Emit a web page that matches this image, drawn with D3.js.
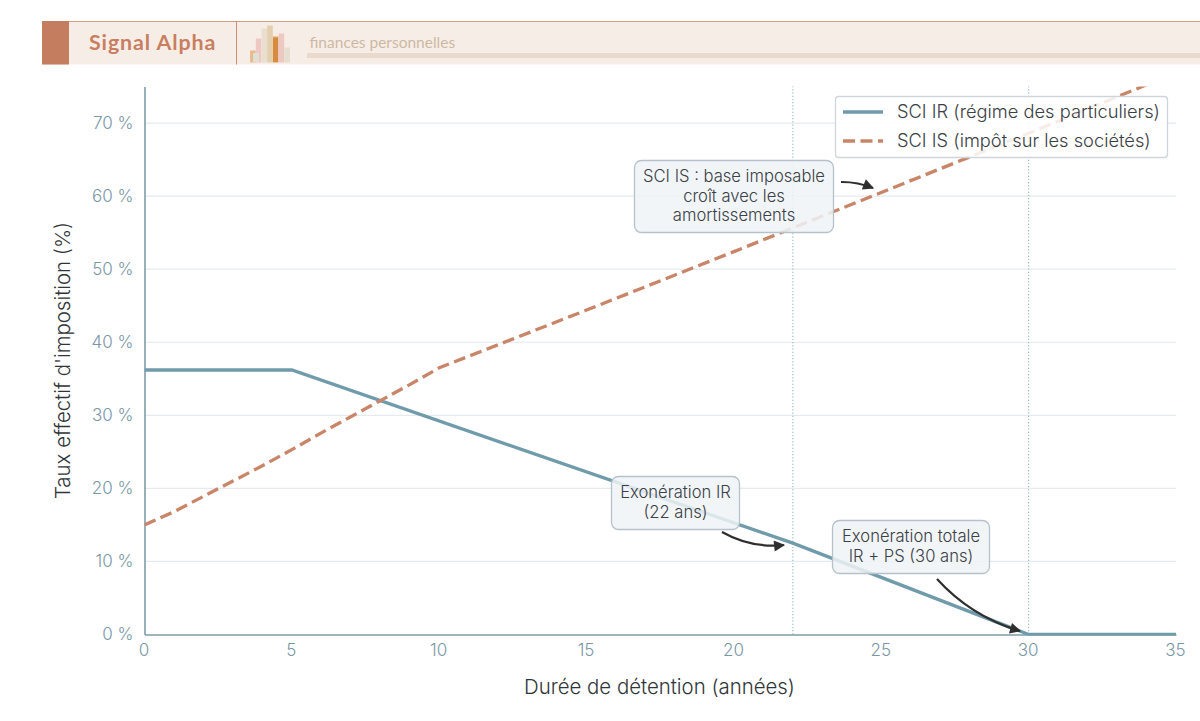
<!DOCTYPE html>
<html lang="fr">
<head>
<meta charset="UTF-8">
<title>SCI IR / SCI IS</title>
<script src="https://d3js.org/d3.v7.min.js"></script>
<style>
  html, body { margin: 0; padding: 0; background: #fff; }
  svg { display: block; }
  text { font-family: Inter, "Noto Sans", sans-serif; }
</style>
</head>
<body>
<svg id="chart" width="1200" height="721"></svg>
<script>
const irYears = [0, 5, 22, 30, 35]
const irRates = [36.2, 36.2, 12.5, 0, 0]
const isYears = [0, 1, 2, 3, 4, 5, 6, 7, 8, 9, 10, 15, 20, 25, 30, 35]
const isRates = [15, 16.8, 18.9, 21, 23.1, 25.3, 27.6, 29.8, 32, 34.2, 36.5, 44.4, 52.4, 60.5, 68.6, 76.9]
const xTicks = [0, 5, 10, 15, 20, 25, 30, 35]
const yTicks = [0, 10, 20, 30, 40, 50, 60, 70]
const exonerationYears = [22, 30]
const seriesNames = ['SCI IR (régime des particuliers)', 'SCI IS (impôt sur les sociétés)']
const noteTexts = [
    ['SCI IS : base imposable', 'croît avec les', 'amortissements'],
    ['Exonération IR', '(22 ans)'],
    ['Exonération totale', 'IR + PS (30 ans)']
]
const logoHeights = [12, 24, 34, 37, 26, 29, 15]

const svg = d3.select('#chart')
const blue = '#6f9baa', terra = '#c98567', axisColor = '#7d9dac', tickColor = '#7a97a7', inkColor = '#3a4045'

const margin = { left: 144.5, right: 24, top: 86.5, bottom: 86.5 }
const x = d3.scaleLinear().domain([0, 35]).range([margin.left, 1200 - margin.right])
const y = d3.scaleLinear().domain([0, 75]).range([721 - margin.bottom, margin.top])

// bandeau du haut
const head = svg.append('g')
head.append('rect').attr('x', 42).attr('y', 21).attr('width', 1158).attr('height', 43.5).attr('fill', '#f7ede7')
head.append('rect').attr('x', 42).attr('y', 21).attr('width', 1158).attr('height', 1).attr('fill', '#d39b82')
head.append('rect').attr('x', 42).attr('y', 21).attr('width', 27).attr('height', 43.5).attr('fill', '#c47d5e')
head.append('rect').attr('x', 236).attr('y', 21).attr('width', 1).attr('height', 43.5).attr('fill', '#d08f73')
head.append('rect').attr('x', 307).attr('y', 53).attr('width', 893).attr('height', 5).attr('fill', '#e9dacd')
head.append('text').attr('x', 89).attr('y', 49.5).attr('font-size', 21.4).attr('font-weight', 700)
    .attr('letter-spacing', 0.9).style('font-family', 'Lato, sans-serif').attr('fill', '#c77f60').text('Signal Alpha')
head.append('text').attr('x', 309.5).attr('y', 47.5).attr('font-size', 15.5)
    .style('font-family', 'Lato, sans-serif').attr('fill', '#cdb9a3').text('finances personnelles')

const logoColors = ['#e8b98f', '#eec9c4', '#eadfcf', '#e3cfae', '#d8a163', '#eec9c4', '#e5dfcf']
const logoX = d3.scaleBand().domain(d3.range(logoHeights.length)).range([250, 290]).padding(0.02)
head.selectAll('.logo').data(logoHeights).join('rect')
    .attr('class', 'logo')
    .attr('x', (d, i) => logoX(i))
    .attr('y', d => 62.5 - d)
    .attr('width', logoX.bandwidth())
    .attr('height', d => d)
    .attr('fill', (d, i) => logoColors[i])
head.append('rect').attr('x', 273).attr('y', 38).attr('width', 5).attr('height', 24).attr('fill', '#d9802f').attr('opacity', 0.7)
head.append('rect').attr('x', 253).attr('y', 53).attr('width', 6).attr('height', 9).attr('fill', '#dfe0d2')

// grille
svg.append('g').selectAll('line').data(yTicks.filter(d => d > 0)).join('line')
    .attr('x1', x(0)).attr('x2', x(35))
    .attr('y1', d => y(d)).attr('y2', d => y(d))
    .attr('stroke', '#e6eaed').attr('stroke-width', 1.2)

svg.append('g').selectAll('line').data(exonerationYears).join('line')
    .attr('x1', d => x(d)).attr('x2', d => x(d))
    .attr('y1', y(0)).attr('y2', y(75))
    .attr('stroke', '#8fb9bb').attr('stroke-width', 1.1).attr('stroke-dasharray', '1.2 2')

// axes
const xAxis = svg.append('g').attr('transform', `translate(0, ${y(0)})`)
    .call(d3.axisBottom(x).tickValues(xTicks).tickSize(0).tickPadding(9).tickFormat(d => d))
const yAxis = svg.append('g').attr('transform', `translate(${x(0)}, 0)`)
    .call(d3.axisLeft(y).tickValues(yTicks).tickSize(0).tickPadding(11).tickFormat(d => d + ' %'))
for (const a of [xAxis, yAxis]) {
    a.select('.domain').attr('stroke', axisColor).attr('stroke-width', 1.6)
    a.selectAll('text').attr('fill', tickColor).attr('font-size', 17).attr('font-weight', 300).style('font-family', 'Inter, sans-serif')
}
xAxis.selectAll('text').attr('dx', -1)

svg.append('text').attr('x', 659.5).attr('y', 694).attr('text-anchor', 'middle')
    .attr('font-size', 20.4).attr('font-weight', 300).attr('fill', '#2f3438').text('Durée de détention (années)')
svg.append('text').attr('transform', `translate(70, 360.5) rotate(-90)`).attr('text-anchor', 'middle')
    .attr('font-size', 20.4).attr('font-weight', 300).attr('fill', '#2f3438').text("Taux effectif d'imposition (%)")

// courbes
svg.append('clipPath').attr('id', 'plot').append('rect')
    .attr('x', x(0)).attr('y', y(75)).attr('width', x(35) - x(0)).attr('height', y(0) - y(75) + 1)

const line = d3.line().x(d => x(d[0])).y(d => y(d[1]))
const plot = svg.append('g').attr('clip-path', 'url(#plot)')
plot.append('path').datum(d3.zip(irYears, irRates)).attr('d', line)
    .attr('fill', 'none').attr('stroke', blue).attr('stroke-width', 3.3)
plot.append('path').datum(d3.zip(isYears, isRates)).attr('d', line)
    .attr('fill', 'none').attr('stroke', terra).attr('stroke-width', 3.3).attr('stroke-dasharray', '12 5.5')

// fleches et encadres
svg.append('defs').append('marker').attr('id', 'head')
    .attr('viewBox', '0 0 10 10').attr('refX', 9).attr('refY', 5)
    .attr('markerWidth', 15).attr('markerHeight', 11).attr('markerUnits', 'userSpaceOnUse').attr('orient', 'auto')
    .append('path').attr('d', 'M0,0 L10,5 L0,10 Z').attr('fill', '#2f2f2f')

const notes = [
    { box: [634, 160, 199, 72], from: [841, 182], to: [873, 188], bend: -0.1 },
    { box: [611, 476, 128, 53], from: [722, 532], to: [784, 545], bend: 0.16 },
    { box: [832, 520, 157, 53], from: [937, 579], to: [1020, 631], bend: 0.14 }
]
function curve(n) {
    const [x0, y0] = n.from, [x1, y1] = n.to
    const cx = (x0 + x1) / 2 - (y1 - y0) * n.bend, cy = (y0 + y1) / 2 + (x1 - x0) * n.bend
    return `M${x0},${y0} Q${cx},${cy} ${x1},${y1}`
}
notes.forEach((n, i) => {
    const g = svg.append('g')
    g.append('rect').attr('x', n.box[0] + 0.5).attr('y', n.box[1] + 0.5).attr('width', n.box[2]).attr('height', n.box[3])
        .attr('rx', 7).attr('fill', '#eef3f7').attr('fill-opacity', 0.85)
        .attr('stroke', '#b6c2cb').attr('stroke-width', 1.3)
    const lines = noteTexts[i]
    g.selectAll('text').data(lines).join('text')
        .attr('x', n.box[0] + n.box[2] / 2 + 0.5)
        .attr('y', (d, k) => n.box[1] + n.box[3] / 2 + (k - (lines.length - 1) / 2) * 19.5 + 5.5)
        .attr('text-anchor', 'middle').attr('font-size', 16.6).attr('font-weight', 300)
        .attr('fill', inkColor).text(d => d)
    svg.append('path').attr('d', curve(n)).attr('fill', 'none')
        .attr('stroke', '#2f2f2f').attr('stroke-width', 2.2).attr('marker-end', 'url(#head)')
})

// legende
const legend = svg.append('g')
legend.append('rect').attr('x', 835.5).attr('y', 96.5).attr('width', 332).attr('height', 61).attr('rx', 3)
    .attr('fill', '#fff').attr('fill-opacity', 0.85).attr('stroke', '#cfd6db').attr('stroke-width', 1.3)
const legendY = d3.scalePoint().domain(seriesNames).range([112, 141])
legend.selectAll('line').data(seriesNames).join('line')
    .attr('x1', 843).attr('x2', 883)
    .attr('y1', d => legendY(d)).attr('y2', d => legendY(d))
    .attr('stroke', (d, i) => i ? terra : blue).attr('stroke-width', 3.3)
    .attr('stroke-dasharray', (d, i) => i ? '12 5.5' : null)
legend.selectAll('text').data(seriesNames).join('text')
    .attr('x', 897).attr('y', d => legendY(d) + 6)
    .attr('font-size', 18.3).attr('font-weight', 300).attr('fill', inkColor).text(d => d)
</script>
</body>
</html>
